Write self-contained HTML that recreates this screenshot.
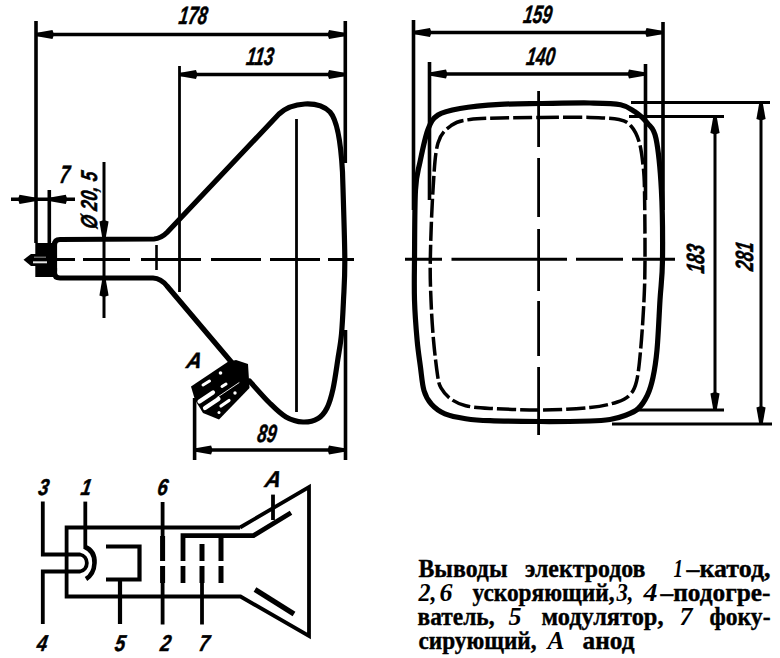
<!DOCTYPE html>
<html><head><meta charset="utf-8">
<style>
html,body{margin:0;padding:0;background:#fff;width:780px;height:658px;overflow:hidden}
svg{display:block}
.d{font-family:"Liberation Sans",sans-serif;font-weight:bold;font-style:italic}
.t{font-family:"Liberation Serif",serif;font-weight:bold}
</style></head><body>
<svg width="780" height="658" viewBox="0 0 780 658">
<defs>
<path id="ar" d="M-0.5,-1.6 L16.5,-4.6 L18,0 L16.5,4.6 L-0.5,1.6 Z"/>
</defs>
<g fill="none" stroke="#000" stroke-width="3.6">
<path d="M36,21 V243"/>
<path d="M345.3,21 V163"/>
<path d="M179.5,66 V292" stroke-width="2.8"/>
<path d="M49.3,190 V243"/>
<path d="M194.6,398 V460"/>
<path d="M345.5,330 V460"/>
<path d="M36,34.5 H345.5"/>
<path d="M179.5,74.5 H345.5"/>
<path d="M11,199.3 H75"/>
<path d="M104,162 V318" stroke-width="3"/>
<path d="M194.6,450 H345.5"/>
<path d="M296.5,119 V412" stroke-width="2.8"/>
<path d="M156.5,245 V270" stroke-width="2.6"/>
<path d="M53,259.5 H75 M83,259.5 H130 M141,259.5 H201 M211,259.5 H261 M270,259.5 H320 M328,259.5 H354" stroke-width="3.0"/>
</g>
<g fill="none" stroke="#000" stroke-width="5.2" stroke-linejoin="round" stroke-linecap="round">
<path d="M54.5,271 V245 Q54.5,239.5 60,239.5 L154,239 Q161,238.5 167,232.5 L279,114 C292,102 318,100 330,112 C338,121 341,145 342.5,172 C342.9,186.2 344.6,235.7 344.8,257.0 C345.0,278.3 344.1,287.2 343.5,300.0 C342.9,312.8 342.4,324.1 341.5,334.0 C340.6,343.9 339.2,350.4 337.8,359.6 C336.4,368.8 334.8,380.9 333.0,389.0 C331.2,397.1 329.5,403.1 327.0,408.0 C324.5,412.9 322.0,416.2 318.0,418.5 C314.0,420.8 308.3,422.2 303.0,422.0 C297.7,421.8 291.6,420.2 286.0,417.0 C280.4,413.8 275.7,409.0 269.6,403.0 C263.5,397.0 252.8,384.7 249.5,381.0"/>
<path d="M54.5,268 V272.5 Q54.5,278 60,278 L153,278 Q161,278.5 167,286 L233,364"/>
</g>
<g fill="#000" stroke="none">
<rect x="35.3" y="243" width="18" height="34"/>
<path d="M23.5,259.8 L31,254 L36,254 L36,266 L31,266 Z"/>
</g>
<path d="M33,262.3 H47" stroke="#fff" stroke-width="2" opacity="0.9"/><path d="M34,257.2 H46" stroke="#fff" stroke-width="1.2" opacity="0.5"/>
<g fill="#000" stroke="none">
<use href="#ar" transform="translate(36,34.5) rotate(0)"/>
<use href="#ar" transform="translate(345.5,34.5) rotate(180)"/>
<use href="#ar" transform="translate(179.5,74.5) rotate(0)"/>
<use href="#ar" transform="translate(345.5,74.5) rotate(180)"/>
<use href="#ar" transform="translate(36,199.3) rotate(180)"/>
<use href="#ar" transform="translate(49.3,199.3) rotate(0)"/>
<use href="#ar" transform="translate(104,238) rotate(-90)"/>
<use href="#ar" transform="translate(104,279) rotate(90)"/>
<use href="#ar" transform="translate(194.6,450) rotate(0)"/>
<use href="#ar" transform="translate(345.5,450) rotate(180)"/>
<path d="M191,386.5 L227.6,362 L236,360 L248,364 L249.5,388 L219,419.5 L203,413 L195,400 Z"/>
</g>
<g fill="none" stroke="#fff" stroke-linecap="round">
<path d="M199.5,401.5 L213,392.5" stroke-width="4.2"/>
<path d="M205,408 L218.5,399" stroke-width="4.2"/>
<path d="M221,406 L229,400.5" stroke-width="3.2"/>
<path d="M203,385 L209.5,381" stroke-width="3"/>
<path d="M217,397.5 L239,382.7" stroke-width="0.9"/>
<path d="M222,386.5 L226,384" stroke-width="3"/>
<circle cx="220.5" cy="373" r="1.8" fill="#fff" stroke="none"/><circle cx="235" cy="393" r="1.7" fill="#fff" stroke="none"/><circle cx="219" cy="412.5" r="1.5" fill="#fff" stroke="none"/>
</g>
<g class="d" fill="#000" stroke="#000" stroke-width="0.5">
<text transform="translate(178,24) scale(0.68,1) skewX(-12)" font-size="25">178</text>
<text transform="translate(245.5,64.5) scale(0.68,1) skewX(-12)" font-size="25">113</text>
<text transform="translate(59,182.8) scale(0.68,1) skewX(-12)" font-size="25">7</text>
<text transform="translate(97,229.5) rotate(-90) scale(0.74,1) skewX(-12)" font-size="23" textLength="77" lengthAdjust="spacing">Ø 20, 5</text>
<text transform="translate(256.5,442) scale(0.68,1) skewX(-12)" font-size="25">89</text>
<text transform="translate(185.5,367.5) scale(0.95,1) skewX(-12)" font-size="22">A</text>
</g>
<g fill="none" stroke="#000" stroke-width="3.6">
<path d="M413.5,20 V210"/>
<path d="M429.5,62 V200"/>
<path d="M663,22 V210"/>
<path d="M645.5,64 V200"/>
<path d="M413.5,32.5 H663"/>
<path d="M429.5,74 H645.5"/>
<path d="M631,102.5 H770" stroke-width="3"/>
<path d="M629,116.5 H724" stroke-width="3"/>
<path d="M637,410 H724" stroke-width="3"/>
<path d="M612,424 H772" stroke-width="3"/>
<path d="M715,116.5 V410" stroke-width="3"/>
<path d="M761,102.5 V424" stroke-width="3"/>
<path d="M405,259.3 H442 M451.5,259.3 H567 M576,259.3 H623 M632,259.3 H675" stroke-width="3.0"/>
<path d="M538.6,91 V147 M538.6,158 V217 M538.6,229 V291 M538.6,301 V356 M538.6,367 V435" stroke-width="2.8"/>
</g>
<g fill="none" stroke="#000" stroke-linejoin="round">
<path d="M540,103.5 C555.0,103.3 576.6,102.8 590.0,103.0 C603.4,103.2 613.1,103.2 620.6,104.7 C628.1,106.2 630.3,108.7 634.8,111.7 C639.3,114.8 643.9,118.5 647.4,123.0 C650.9,127.5 653.7,127.3 656.0,138.5 C658.3,149.7 660.3,169.8 661.4,190.0 C662.5,210.2 662.7,241.7 662.5,260.0 C662.3,278.3 660.9,285.0 660.0,300.0 C659.1,315.0 658.2,337.1 657.0,350.0 C655.8,362.9 654.6,369.9 653.0,377.4 C651.4,384.9 650.0,389.8 647.5,395.0 C645.0,400.2 641.8,405.4 638.0,408.8 C634.2,412.2 629.7,413.7 625.0,415.5 C620.3,417.3 615.8,418.6 610.0,419.5 C604.2,420.4 601.7,420.7 590.0,421.0 C578.3,421.3 556.7,421.6 540.0,421.5 C523.3,421.4 502.4,421.2 490.0,420.7 C477.6,420.2 473.2,419.8 465.7,418.7 C458.2,417.6 450.7,416.3 445.0,413.9 C439.3,411.5 435.0,408.2 431.5,404.3 C428.0,400.4 425.8,396.8 424.0,390.6 C422.2,384.5 421.6,375.8 420.5,367.4 C419.4,359.0 418.1,351.2 417.1,340.0 C416.1,328.8 414.9,313.3 414.5,300.0 C414.1,286.7 414.3,278.3 414.5,260.0 C414.7,241.7 414.6,206.3 415.5,190.0 C416.4,173.7 417.9,172.1 420.0,162.0 C422.1,151.9 425.0,137.3 428.0,129.5 C431.0,121.7 432.7,118.5 438.0,115.0 C443.3,111.5 449.7,110.3 460.0,108.5 C470.3,106.7 486.7,105.2 500.0,104.4 C513.3,103.6 525.0,103.7 540.0,103.5 Z" stroke-width="5.2"/>
<path d="M540,117.5 C555.0,117.4 576.8,117.1 590.0,117.4 C603.2,117.7 612.2,118.1 619.0,119.5 C625.8,120.9 627.7,122.3 631.0,126.0 C634.3,129.7 637.0,134.9 639.0,141.4 C641.0,147.9 642.1,156.9 643.0,165.0 C643.9,173.1 644.2,174.2 644.5,190.0 C644.8,205.8 645.1,241.7 645.0,260.0 C644.9,278.3 644.7,285.0 644.0,300.0 C643.3,315.0 641.9,336.4 640.6,350.0 C639.4,363.6 638.3,374.0 636.5,381.5 C634.7,389.0 632.9,391.6 629.7,395.0 C626.5,398.4 624.0,399.9 617.4,402.0 C610.8,404.1 602.9,406.2 590.0,407.5 C577.1,408.8 556.7,409.9 540.0,410.0 C523.3,410.1 502.4,409.1 490.0,408.4 C477.6,407.7 472.3,407.3 465.7,405.7 C459.1,404.1 454.7,401.8 450.6,398.8 C446.5,395.8 443.2,391.8 441.0,387.9 C438.8,384.0 438.9,383.6 437.6,375.6 C436.4,367.6 434.6,352.6 433.5,340.0 C432.4,327.4 431.5,313.3 431.0,300.0 C430.5,286.7 430.0,278.3 430.3,260.0 C430.6,241.7 431.7,209.5 433.0,190.0 C434.3,170.5 434.8,153.8 438.0,143.0 C441.2,132.2 446.7,128.9 452.0,125.0 C457.3,121.1 462.0,120.7 470.0,119.5 C478.0,118.3 488.3,118.3 500.0,118.0 C511.7,117.7 525.0,117.6 540.0,117.5 Z" stroke-width="3.5" stroke-dasharray="19 4"/>
</g>
<g fill="#000" stroke="none">
<use href="#ar" transform="translate(413.5,32.5) rotate(0)"/>
<use href="#ar" transform="translate(663,32.5) rotate(180)"/>
<use href="#ar" transform="translate(429.5,74) rotate(0)"/>
<use href="#ar" transform="translate(645.5,74) rotate(180)"/>
<use href="#ar" transform="translate(715,116.5) rotate(90)"/>
<use href="#ar" transform="translate(715,410) rotate(-90)"/>
<use href="#ar" transform="translate(761,102.5) rotate(90)"/>
<use href="#ar" transform="translate(761,424) rotate(-90)"/>
</g>
<g class="d" fill="#000" stroke="#000" stroke-width="0.5">
<text transform="translate(522.5,22.8) scale(0.68,1) skewX(-12)" font-size="25">159</text>
<text transform="translate(525.5,65) scale(0.68,1) skewX(-12)" font-size="25">140</text>
<text transform="translate(704,274) rotate(-90) scale(0.68,1) skewX(-12)" font-size="25">183</text>
<text transform="translate(752.5,271.5) rotate(-90) scale(0.68,1) skewX(-12)" font-size="25">281</text>
</g>
<g fill="none" stroke="#000" stroke-width="3.8" stroke-linejoin="miter">
<path d="M42.8,501.6 V554.5 H80 A8.7,8.7 0 0 1 80,571.5 H42.8 V624"/>
<path d="M85.3,501.6 V549"/>
<path d="M85,547 Q95,551 94.5,563 Q94,574 86,579" stroke-width="4.6"/>
<path d="M240,527.5 H66.6 V596.5 H240.5 L309,636 V487 L240,527.5"/>
<path d="M106,546.5 H139.5 V579.5 H106 M120,579.5 V624" stroke-width="4.2"/>
<path d="M162.6,502 V561 M162.6,566 V624.5"/>
<path d="M162.6,536 V561 M162.6,566 V583" stroke-width="5"/>
<path d="M183,583 V566 M183,561 V535.6 H253.5 L291,512.7" stroke-width="4.8"/>
<path d="M202,544 V561 M202,566 V583 M221,535.6 V561 M221,566 V583" stroke-width="5"/>
<path d="M202,583 V624.5"/>
<path d="M273,494.6 V520"/>
<path d="M255,589.5 L294,614" stroke-width="5.2"/>
</g>
<g class="d" fill="#000" stroke="#000" stroke-width="0.5">
<text transform="translate(37.5,494.5) scale(0.8,1) skewX(-12)" font-size="23">3</text>
<text transform="translate(80,494.5) scale(0.8,1) skewX(-12)" font-size="23">1</text>
<text transform="translate(156.5,495) scale(0.8,1) skewX(-12)" font-size="23">6</text>
<text transform="translate(264,487) scale(0.95,1) skewX(-12)" font-size="23">A</text>
<text transform="translate(36,651) scale(0.8,1) skewX(-12)" font-size="23">4</text>
<text transform="translate(114,651) scale(0.8,1) skewX(-12)" font-size="23">5</text>
<text transform="translate(159.5,651) scale(0.8,1) skewX(-12)" font-size="23">2</text>
<text transform="translate(198,651) scale(0.8,1) skewX(-12)" font-size="23">7</text>
</g>
<!-- ===== CAPTION ===== -->
<g class="t" fill="#000" stroke="#000" stroke-width="0.4" font-size="25">
<text x="418.5" y="576.5" textLength="89" lengthAdjust="spacingAndGlyphs">Выводы</text>
<text x="525.1" y="576.5" textLength="120.39999999999998" lengthAdjust="spacingAndGlyphs">электродов</text>
<text x="673.5" y="576.5" textLength="9.5" lengthAdjust="spacingAndGlyphs" font-style="italic" font-size="25" stroke-width="0">1</text>
<text x="686.5" y="576.5" textLength="84" lengthAdjust="spacingAndGlyphs">–катод,</text>
<text x="418.5" y="600.5" textLength="18" lengthAdjust="spacingAndGlyphs" font-style="italic" font-size="25" stroke-width="0">2,</text>
<text x="439.5" y="600.5" textLength="13" lengthAdjust="spacingAndGlyphs" font-style="italic" font-size="25" stroke-width="0">6</text>
<text x="472.5" y="600.5" textLength="142" lengthAdjust="spacingAndGlyphs">ускоряющий,</text>
<text x="616.5" y="600.5" textLength="17" lengthAdjust="spacingAndGlyphs" font-style="italic" font-size="25" stroke-width="0">3,</text>
<text x="643.5" y="600.5" textLength="14" lengthAdjust="spacingAndGlyphs" font-style="italic" font-size="25" stroke-width="0">4</text>
<text x="660.5" y="600.5" textLength="110" lengthAdjust="spacingAndGlyphs">–подогре-</text>
<text x="417.5" y="625" textLength="77" lengthAdjust="spacingAndGlyphs">ватель,</text>
<text x="508.5" y="625" textLength="13" lengthAdjust="spacingAndGlyphs" font-style="italic" font-size="25" stroke-width="0">5</text>
<text x="541.5" y="625" textLength="122" lengthAdjust="spacingAndGlyphs">модулятор,</text>
<text x="679.5" y="625" textLength="13" lengthAdjust="spacingAndGlyphs" font-style="italic" font-size="25" stroke-width="0">7</text>
<text x="709.5" y="625" textLength="61" lengthAdjust="spacingAndGlyphs">фоку-</text>
<text x="418.5" y="648.5" textLength="118" lengthAdjust="spacingAndGlyphs">сирующий,</text>
<text x="547.5" y="648.5" textLength="17" lengthAdjust="spacingAndGlyphs" font-style="italic" font-size="25" stroke-width="0">A</text>
<text x="582.5" y="648.5" textLength="52" lengthAdjust="spacingAndGlyphs">анод</text>
</g>

</svg>
</body></html>
